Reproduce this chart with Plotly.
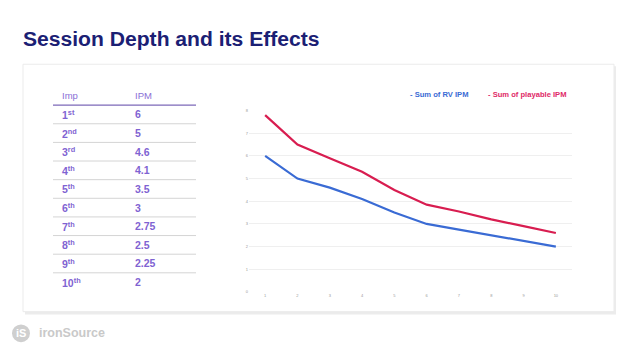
import plotly.graph_objects as go

# ---- data ----
impressions = [1, 2, 3, 4, 5, 6, 7, 8, 9, 10]
rv_ipm = [6, 5, 4.6, 4.1, 3.5, 3, 2.75, 2.5, 2.25, 2]
playable_ipm = [7.8, 6.5, 5.9, 5.3, 4.5, 3.85, 3.55, 3.2, 2.9, 2.6]
y_ticks = [0, 1, 2, 3, 4, 5, 6, 7, 8]
imp_labels = ["1<sup>st</sup>", "2<sup>nd</sup>", "3<sup>rd</sup>", "4<sup>th</sup>", "5<sup>th</sup>",
              "6<sup>th</sup>", "7<sup>th</sup>", "8<sup>th</sup>", "9<sup>th</sup>", "10<sup>th</sup>"]
ipm_labels = ["6", "5", "4.6", "4.1", "3.5", "3", "2.75", "2.5", "2.25", "2"]
table_headers = ["Imp", "IPM"]
series_names = ["Sum of RV IPM", "Sum of playable IPM"]
title = "Session Depth and its Effects"

W, H = 638, 359
OFF = 8  # page body margin
FW, FH = W - OFF, H - OFF
FONT = "Liberation Sans"
BLUE = "#3a6bd4"
RED = "#d81d50"
PURPLE = "#7f63d2"

def px(x):
    return (x - OFF) / FW

def py(y):
    return 1 - (y - OFF) / FH

fig = go.Figure()

fig.add_trace(go.Scatter(x=impressions, y=rv_ipm, mode="lines", name=series_names[0],
                         line=dict(color=BLUE, width=2.2), showlegend=False,
                         xaxis="x", yaxis="y"))
fig.add_trace(go.Scatter(x=impressions, y=playable_ipm, mode="lines", name=series_names[1],
                         line=dict(color=RED, width=2.2), showlegend=False,
                         xaxis="x", yaxis="y"))

shapes = []
# card shadow + card
shapes.append(dict(type="rect", xref="paper", yref="paper",
                   x0=px(25), x1=px(616), y0=py(64), y1=py(316),
                   fillcolor="#ececec", line=dict(width=0), layer="below"))
shapes.append(dict(type="rect", xref="paper", yref="paper",
                   x0=px(23), x1=px(614), y0=py(62), y1=py(313),
                   fillcolor="white", line=dict(color="#ebebeb", width=1), layer="below"))

annotations = []
annotations.append(dict(text="<b>" + title + "</b>", xref="paper", yref="paper",
                        x=px(21), y=py(36), xanchor="left", yanchor="middle",
                        showarrow=False, font=dict(family=FONT, size=21.1, color="#1b2074")))

# table (on secondary axes, rows by index)
rows = len(imp_labels)
col_x = [0.05, 0.56]
for j, h in enumerate(table_headers):
    annotations.append(dict(text=h, xref="x2", yref="y2", x=col_x[j], y=0,
                            xanchor="left", yanchor="middle", showarrow=False,
                            font=dict(family=FONT, size=9.5, color="#8a6fd6")))
for i in range(rows):
    annotations.append(dict(text="<b>" + imp_labels[i] + "</b>", xref="x2", yref="y2",
                            x=col_x[0], y=i + 1,
                            xanchor="left", yanchor="middle", showarrow=False,
                            font=dict(family=FONT, size=10.5, color=PURPLE)))
    annotations.append(dict(text="<b>" + ipm_labels[i] + "</b>", xref="x2", yref="y2",
                            x=col_x[1], y=i + 1,
                            xanchor="left", yanchor="middle", showarrow=False,
                            font=dict(family=FONT, size=10.5, color=PURPLE)))
for i in range(rows):
    if i == 0:
        shapes.append(dict(type="line", xref="x2", yref="y2", x0=0, x1=1, y0=0.5, y1=0.5,
                           line=dict(color="#7d68b8", width=1.2)))
    else:
        shapes.append(dict(type="line", xref="x2", yref="y2", x0=0, x1=1, y0=i + 0.5, y1=i + 0.5,
                           line=dict(color="#d4d4d4", width=1)))

# legend-like labels
annotations.append(dict(text="<b>- " + series_names[0] + "</b>", xref="paper", yref="paper",
                        x=px(408), y=py(93), xanchor="left", yanchor="middle", showarrow=False,
                        font=dict(family=FONT, size=7.6, color=BLUE)))
annotations.append(dict(text="<b>- " + series_names[1] + "</b>", xref="paper", yref="paper",
                        x=px(486), y=py(93), xanchor="left", yanchor="middle", showarrow=False,
                        font=dict(family=FONT, size=7.6, color="#e02a67")))

# logo
shapes.append(dict(type="circle", xref="paper", yref="paper",
                   x0=px(12), x1=px(30), y0=py(326), y1=py(344),
                   fillcolor="#cfcfcf", line=dict(width=0)))
annotations.append(dict(text="<b>iS</b>", xref="paper", yref="paper", x=px(21), y=py(335),
                        xanchor="center", yanchor="middle", showarrow=False,
                        font=dict(family=FONT, size=11, color="white")))
annotations.append(dict(text="<b>ironSource</b>", xref="paper", yref="paper", x=px(37), y=py(335),
                        xanchor="left", yanchor="middle", showarrow=False,
                        font=dict(family=FONT, size=12.5, color="#c9c9c9")))

fig.update_layout(
    width=FW, height=FH,
    margin=dict(l=0, r=0, t=0, b=0),
    paper_bgcolor="white", plot_bgcolor="rgba(0,0,0,0)",
    showlegend=False,
    xaxis=dict(domain=[px(249), px(572)], range=[0.5, 10.5], tickvals=impressions,
               showgrid=False, zeroline=False, showline=False, ticks="",
               tickfont=dict(family=FONT, size=4, color="#999999"), anchor="y"),
    yaxis=dict(domain=[py(293), py(109)], range=[0, 8], tickvals=y_ticks,
               showgrid=True, gridcolor="#efefef", gridwidth=1, zeroline=False,
               showline=False, ticks="", tickfont=dict(family=FONT, size=4, color="#999999"),
               anchor="x"),
    xaxis2=dict(domain=[px(53), px(196)], range=[0, 1], visible=False, anchor="y2"),
    yaxis2=dict(domain=[py(292.5), py(84.6)], range=[rows + 0.5, -0.5], visible=False, anchor="x2"),
    shapes=shapes,
    annotations=annotations,
)

fig.write_html("out.html")
